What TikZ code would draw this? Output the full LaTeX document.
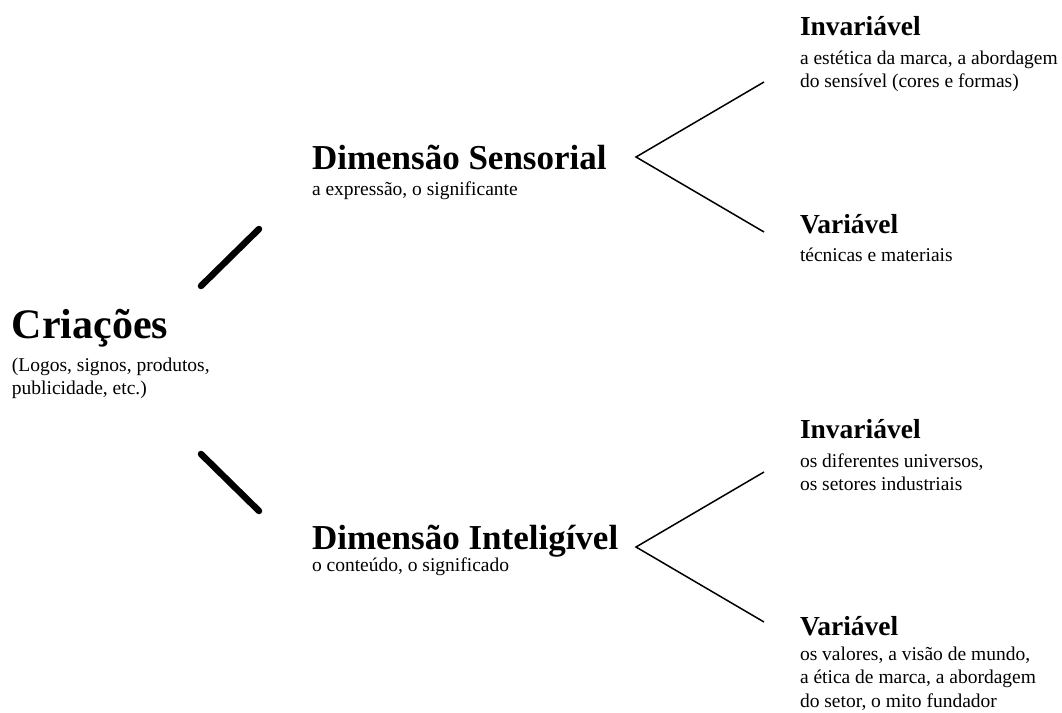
\documentclass[tikz,border=0pt]{standalone}
\usepackage{fontspec}
\setmainfont{Liberation Serif}
\newcommand{\lns}[1]{\begin{tabular}[t]{@{}l@{}}#1\end{tabular}}
\begin{document}
\begin{tikzpicture}[x=1pt,y=-1pt,
  every node/.style={inner sep=0pt,outer sep=0pt,anchor=base west},
  big/.style={font=\fontsize{42}{46}\selectfont\bfseries},
  dim/.style={font=\fontsize{35}{39}\selectfont\bfseries},
  ttl/.style={font=\fontsize{27.5}{30}\selectfont\bfseries},
  sub/.style={font=\fontsize{19.5}{23.5}\selectfont},
  thick line/.style={line width=6.5pt,line cap=round},
  fork/.style={line width=1.5pt}]
\useasboundingbox (0,0) rectangle (1062,712);
% main
\node[big] (cri) at (12,338) {Criações};
\node[sub] (cris) at (12,371) {\lns{(Logos, signos, produtos,\\publicidade, etc.)}};
% dimensions
\node[dim] (ds) at (312,169) {Dimensão Sensorial};
\node[sub] (dss) at (312,195) {a expressão, o significante};
\node[dim] (di) at (312,549) {Dimensão Inteligível};
\node[sub] (dis) at (312,571) {o conteúdo, o significado};
% leaves
\node[ttl] (i1) at (800,35) {Invariável};
\node[sub] (i1s) at (800,64) {\lns{a estética da marca, a abordagem\\do sensível (cores e formas)}};
\node[ttl] (v1) at (800,233) {Variável};
\node[sub] (v1s) at (800,261) {técnicas e materiais};
\node[ttl] (i2) at (800,438) {Invariável};
\node[sub] (i2s) at (800,467) {\lns{os diferentes universos,\\os setores industriais}};
\node[ttl] (v2) at (800,635) {Variável};
\node[sub] (v2s) at (800,660) {\lns{os valores, a visão de mundo,\\a ética de marca, a abordagem\\do setor, o mito fundador}};
% connector points
\coordinate (ua) at (201,286);
\coordinate (ub) at (259,229);
\coordinate (la) at (201,454);
\coordinate (lb) at (259,511);
\coordinate (ap1) at (636,157);
\coordinate (e1a) at (764,82);
\coordinate (e1b) at (764,232);
\coordinate (ap2) at (636,547);
\coordinate (e2a) at (764,472);
\coordinate (e2b) at (764,622);
\draw[thick line] (ua) -- (ub);
\draw[thick line] (la) -- (lb);
\draw[fork] (e1a) -- (ap1) -- (e1b);
\draw[fork] (e2a) -- (ap2) -- (e2b);
\end{tikzpicture}
\end{document}
